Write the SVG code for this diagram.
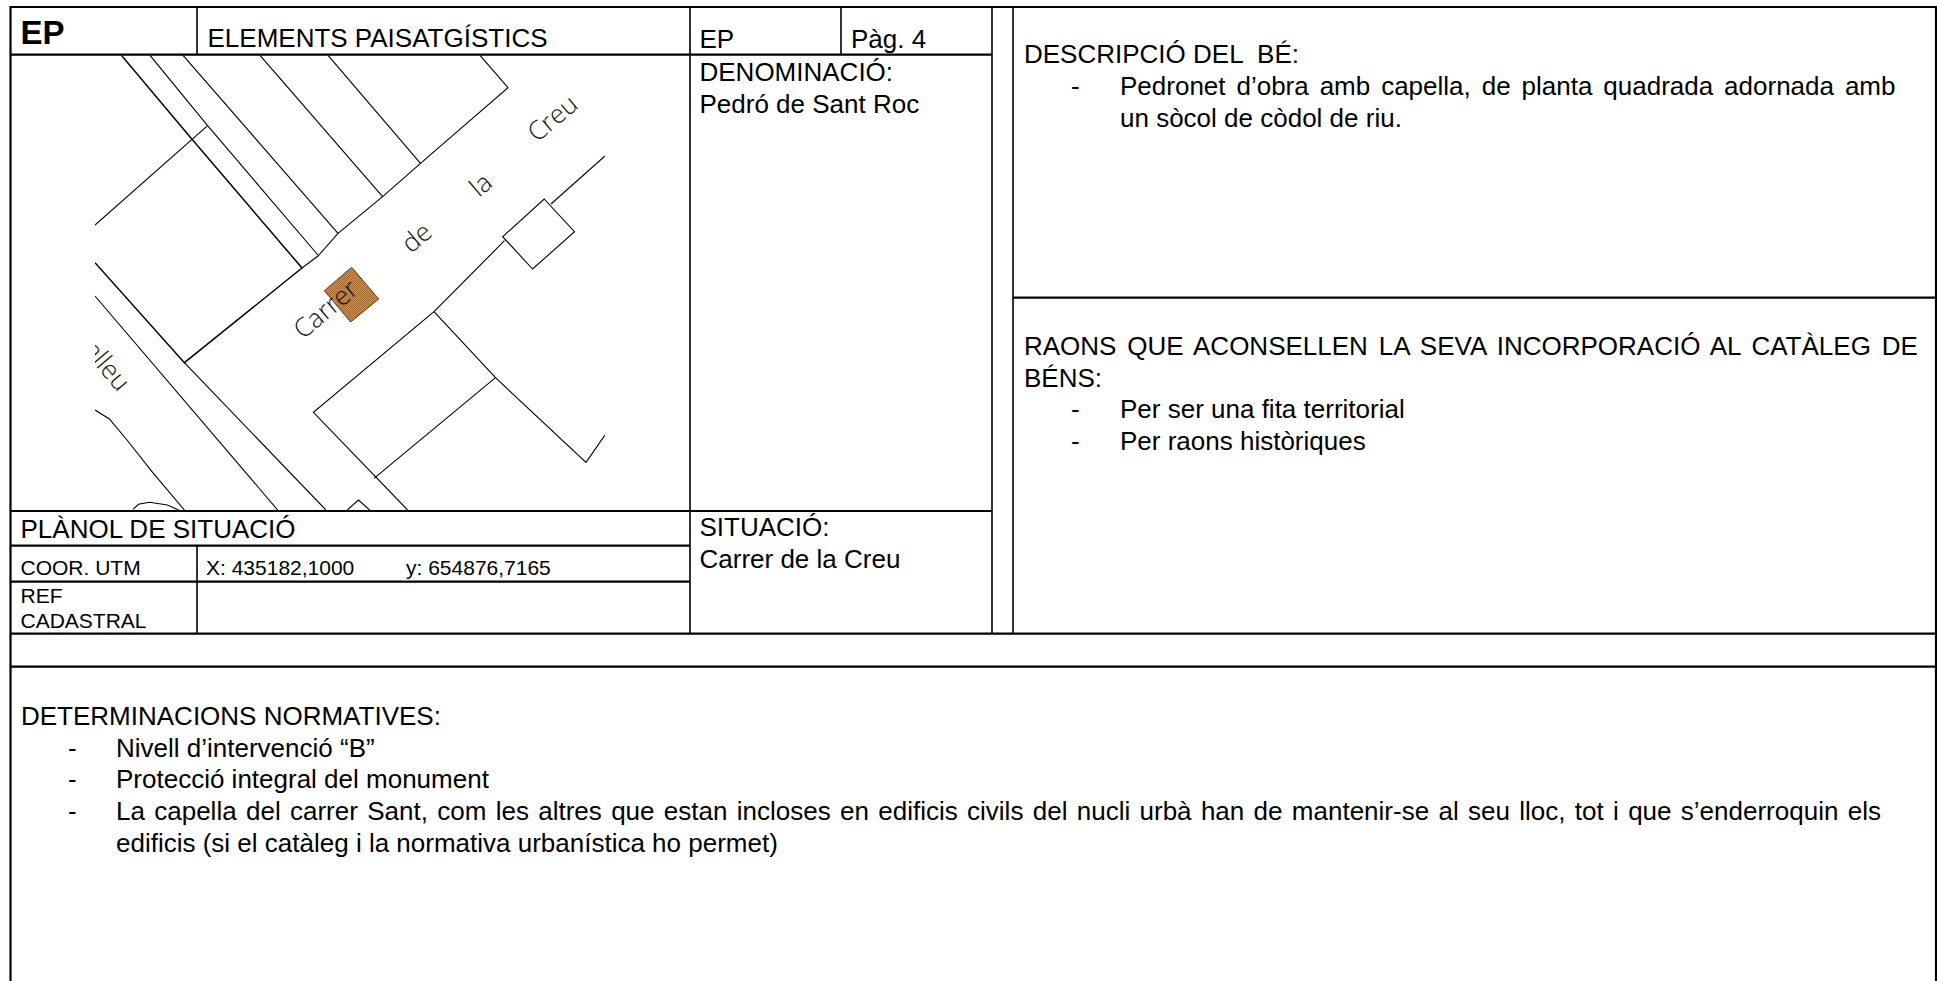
<svg xmlns="http://www.w3.org/2000/svg" width="1937" height="981" viewBox="0 0 1937 981">
<style>
text{font-family:"Liberation Sans",Arial,sans-serif;fill:#000}
.b{font-size:26px}
.s{font-size:21px}
.m{fill:none;stroke:#000;stroke-width:1.1}
.t{fill:none;stroke:#000;stroke-width:1.5}
.f{fill:none;stroke:#000;stroke-width:2.2}
.g{fill:none;stroke:#000;stroke-width:1.6}
.c{font-family:"Open Sans","Lato",sans-serif;font-weight:300;font-size:26px;fill:#111}
</style>
<defs>
<pattern id="hatch" width="2" height="2" patternUnits="userSpaceOnUse">
<rect width="2" height="2" fill="#C98C52"/>
<rect width="1" height="1" fill="#A86D35"/>
<rect x="1" y="1" width="1" height="1" fill="#A86D35"/>
</pattern>
<clipPath id="mapclip"><rect x="95" y="55" width="510" height="455"/></clipPath>
</defs>
<rect width="1937" height="981" fill="#fff"/>
<g id="map" clip-path="url(#mapclip)">
<path class="t" d="M121.400 55.300L192 139.300L302 268L184.400 362.700L95 262.700"/>
<path class="m" d="M150 55.300L207.600 125.700L317.900 255M183 55.300L338 233.300M260 55.300L382.600 196.700M328 55.300L420.500 163.300M480 55.300L508 87.700L420.500 163.300L382.600 196.700L338 233.300L318 256L302 268"/>
<path class="m" d="M184.400 362.700L325.900 510M95 296L277.700 510M95 225L207.600 125.700"/>
<path class="m" d="M605 156L551 204M544.200 199L574.500 231.700L532.600 269L502.700 236.700ZM504.500 240.700L434 311.700L313.400 412.300L407.600 510M434 311.700L495.500 377.700L586 462.300L605 435M495.500 377.700L374 478.300M347.300 510L358.500 500L369.600 510"/>
<path class="m" d="M95 410L109.400 419L127 440L152 471.700L184.400 510M133 509.300L138.400 504.300L149.600 502.300L167.400 505L178.600 510"/>
<polygon id="pedro" points="351.700,267.300 378.700,299 350.700,322 324.300,290.700" fill="url(#hatch)" stroke="#5a3a1a" stroke-width="1"/>
<text class="c" transform="translate(303 340) rotate(-40)">Carrer</text>
<text class="c" transform="translate(411 254) rotate(-40)">de</text>
<text class="c" transform="translate(479 198) rotate(-40)">la</text>
<text class="c" transform="translate(537 143) rotate(-40)">Creu</text>
<text class="c" text-anchor="end" transform="translate(118 393) rotate(50)">alleu</text>
</g>
<g id="grid">
<path class="f" d="M10.500 981V7H1936V981M10.500 54.700H992M10 511H992M10 545.700H690M10 581.700H690M10 633.700H1936M10 666.700H1936M1013 297.700H1936"/>
<path class="g" d="M197 7V54.700M197 545.700V633.700M690 7V633.700M841 7V54.700M992 7V633.700M1013 7V633.700"/>
</g>
<g id="header">
<text x="20.500" y="44" style="font-size:33px;font-weight:bold">EP</text>
<text class="b" x="207.500" y="47.300">ELEMENTS PAISATGÍSTICS</text>
<text class="b" x="699.500" y="48.300">EP</text>
<text class="b" x="851" y="48.300">Pàg. 4</text>
</g>
<g id="denominacio">
<text class="b" x="699.500" y="81">DENOMINACIÓ:</text>
<text class="b" x="699.500" y="113">Pedró de Sant Roc</text>
</g>
<g id="planol">
<text class="b" x="20.500" y="537.700">PLÀNOL DE SITUACIÓ</text>
<text class="s" x="20.500" y="575">COOR. UTM</text>
<text class="s" x="206" y="575">X: 435182,1000</text>
<text class="s" x="406" y="575">y: 654876,7165</text>
<text class="s" x="20.500" y="602.700">REF</text>
<text class="s" x="20.500" y="627.700">CADASTRAL</text>
</g>
<g id="situacio">
<text class="b" x="699.500" y="536">SITUACIÓ:</text>
<text class="b" x="699.500" y="567.700">Carrer de la Creu</text>
</g>
<g id="descripcio">
<text class="b" x="1024" y="63.300" xml:space="preserve">DESCRIPCIÓ DEL  BÉ:</text>
<text class="b" x="1071" y="95.300">-</text>
<text class="b" x="1120" y="95.300" word-spacing="3.700">Pedronet d’obra amb capella, de planta quadrada adornada amb</text>
<text class="b" x="1120" y="127.300">un sòcol de còdol de riu.</text>
</g>
<g id="raons">
<text class="b" x="1024" y="355" word-spacing="3.600">RAONS QUE ACONSELLEN LA SEVA INCORPORACIÓ AL CATÀLEG DE</text>
<text class="b" x="1024" y="386.700">BÉNS:</text>
<text class="b" x="1071" y="418.300">-</text>
<text class="b" x="1120" y="418.300">Per ser una fita territorial</text>
<text class="b" x="1071" y="450">-</text>
<text class="b" x="1120" y="450">Per raons històriques</text>
</g>
<g id="determinacions">
<text class="b" x="21" y="725">DETERMINACIONS NORMATIVES:</text>
<text class="b" x="68" y="756.700">-</text>
<text class="b" x="116" y="756.700">Nivell d’intervenció “B”</text>
<text class="b" x="68" y="788.300">-</text>
<text class="b" x="116" y="788.300">Protecció integral del monument</text>
<text class="b" x="68" y="820">-</text>
<text class="b" x="116" y="820" word-spacing="2.100">La capella del carrer Sant, com les altres que estan incloses en edificis civils del nucli urbà han de mantenir-se al seu lloc, tot i que s’enderroquin els</text>
<text class="b" x="116" y="851.700">edificis (si el catàleg i la normativa urbanística ho permet)</text>
</g>
</svg>
